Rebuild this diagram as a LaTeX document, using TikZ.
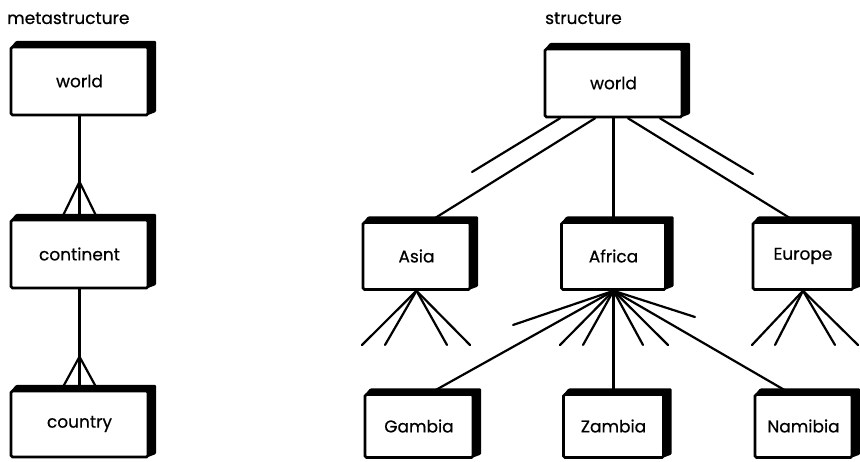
\documentclass[tikz,border=0pt]{standalone}
\usepackage{fontspec}
\setmainfont{Poppins}
\newfontfamily\labelfont{Poppins}[FakeBold=0.6]
\usetikzlibrary{calc}

% An entity: white front face with a solid black depth slab to the upper right.
% #1 name, #2 centre x, #3 centre y, #4 width, #5 height, #6 label
\newcommand{\entitybox}[6]{%
  \fill[black, rounded corners=1pt]
    ({#2-#4/2},{#3-#5/2}) -- ({#2-#4/2+5},{#3-#5/2-6}) --
    ({#2+#4/2+8},{#3-#5/2-6}) -- ({#2+#4/2+8},{#3+#5/2-3}) --
    ({#2+#4/2},{#3+#5/2}) -- cycle;
  \node[entity, minimum width=#4pt, minimum height=#5pt] (#1) at (#2,#3) {#6};
}

\begin{document}
\begin{tikzpicture}[x=1pt, y=-1pt,
  link/.style={line width=2.2pt, line cap=round},
  entity/.style={draw, line width=2.6pt, fill=white, rectangle,
    rounded corners=1.5pt, inner sep=0pt,
    font=\labelfont\fontsize{17}{20}\selectfont},
  caption/.style={anchor=base west, inner sep=0pt,
    font=\labelfont\fontsize{17}{20}\selectfont}]

\useasboundingbox (0,0) rectangle (860,462);

% ---- metastructure ----
\node[caption] (metalabel) at (7,24) {metastructure};

\entitybox{mworld}{79.5}{81}{137}{68}{world}
\entitybox{mcont}{79.5}{254}{137}{68}{continent}
\entitybox{mcountry}{79.5}{424}{137}{66}{country}

\draw[link] (mworld.south) -- (mcont.north);
\coordinate (mapex1) at ($(mcont.north)+(0,-37)$);
\draw[link] ([xshift=-18pt]mcont.north) -- (mapex1) -- ([xshift=18pt]mcont.north);

\draw[link] (mcont.south) -- (mcountry.north);
\coordinate (mapex2) at ($(mcountry.north)+(0,-33)$);
\draw[link] ([xshift=-18pt]mcountry.north) -- (mapex2) -- ([xshift=18pt]mcountry.north);

% ---- structure ----
\node[caption] (strlabel) at (545,24) {structure};

\entitybox{sworld}{613.5}{83}{137}{68}{world}
\entitybox{asia}{416.5}{256}{107}{67}{Asia}
\entitybox{africa}{613.5}{256}{104}{67}{Africa}
\entitybox{europe}{803}{256}{100}{67}{Europe}
\entitybox{gambia}{419}{426}{108}{63}{Gambia}
\entitybox{zambia}{613.5}{426}{100}{63}{Zambia}
\entitybox{namibia}{803.5}{426}{97}{63}{Namibia}

% world to continents, with the parallel strokes beside the slanted links
\draw[link] ([xshift=-18.5pt]sworld.south) -- ([xshift=13.5pt]asia.north);
\coordinate (asiapar) at (472,172);
\draw[link] ([xshift=-53.5pt]sworld.south) -- (asiapar);
\draw[link] (sworld.south) -- (africa.north);
\draw[link] ([xshift=14.5pt]sworld.south) -- ([xshift=-8pt]europe.north);
\coordinate (europepar) at (753,174);
\draw[link] ([xshift=46.5pt]sworld.south) -- (europepar);

% fans of countries
\foreach \px/\py [count=\i] in {362/345, 385/345, 447/345, 470/345} {
  \coordinate (asiaf\i) at (\px,\py);
  \draw[link] (asia.south) -- (asiaf\i);
}
\foreach \px/\py [count=\i] in {513/325, 560/345, 583/345, 643/345, 668/345, 695/317} {
  \coordinate (africaf\i) at (\px,\py);
  \draw[link] (africa.south) -- (africaf\i);
}
\foreach \px/\py [count=\i] in {752/345, 775/345, 835/345, 858/345} {
  \coordinate (europef\i) at (\px,\py);
  \draw[link] (europe.south) -- (europef\i);
}

% Africa to its named countries
\draw[link] (africa.south) -- ([xshift=11pt]gambia.north);
\draw[link] (africa.south) -- (zambia.north);
\draw[link] (africa.south) -- ([xshift=-13.5pt]namibia.north);

\end{tikzpicture}
\end{document}
